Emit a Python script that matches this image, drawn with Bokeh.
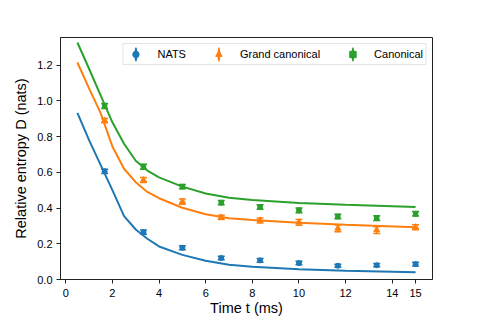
from bokeh.plotting import figure
from bokeh.models import (Range1d, FixedTicker, NumeralTickFormatter, Legend, LegendItem,
                          ColumnDataSource)
from bokeh.embed import file_html
from bokeh.resources import INLINE

# ---- data ----
t_points = [1.667, 3.333, 5.0, 6.667, 8.333, 10.0, 11.667, 13.333, 15.0]
nats_y = [0.606, 0.265, 0.178, 0.120, 0.107, 0.092, 0.077, 0.080, 0.086]
nats_err = [0.012, 0.012, 0.011, 0.010, 0.010, 0.010, 0.009, 0.009, 0.010]
grand_y = [0.890, 0.557, 0.436, 0.348, 0.331, 0.320, 0.286, 0.277, 0.293]
grand_err = [0.012, 0.014, 0.015, 0.012, 0.014, 0.016, 0.019, 0.019, 0.014]
canon_y = [0.972, 0.632, 0.520, 0.430, 0.406, 0.387, 0.353, 0.344, 0.368]
canon_err = [0.014, 0.014, 0.012, 0.012, 0.013, 0.013, 0.013, 0.013, 0.013]

t_model = [0.5, 1.0, 1.5, 2.0, 2.5, 3.0, 3.5, 4.0, 5.0, 6.0, 7.0, 8.0, 10.0, 12.0, 15.0]
nats_model = [0.933, 0.780, 0.640, 0.500, 0.355, 0.280, 0.228, 0.185, 0.138, 0.105, 0.083, 0.071, 0.058, 0.049, 0.040]
grand_model = [1.215, 1.070, 0.930, 0.745, 0.620, 0.545, 0.490, 0.455, 0.402, 0.365, 0.343, 0.333, 0.318, 0.306, 0.292]
canon_model = [1.327, 1.180, 1.030, 0.880, 0.760, 0.665, 0.610, 0.572, 0.520, 0.482, 0.458, 0.445, 0.428, 0.418, 0.406]

series_names = ["NATS", "Grand canonical", "Canonical"]
series_colors = ["#1f77b4", "#ff7f0e", "#2ca02c"]
series_markers = ["circle", "triangle", "square"]
series_sizes = [5, 6, 4.5]

x_ticks = [0, 2, 4, 6, 8, 10, 12, 14, 15]
y_ticks = [0.0, 0.2, 0.4, 0.6, 0.8, 1.0, 1.2]

FONT = "Liberation Sans"

p = figure(width=480, height=320, output_backend="svg", toolbar_location=None,
           x_range=Range1d(-0.225, 15.725), y_range=Range1d(0, 1.355),
           min_border_left=60, min_border_right=48, min_border_top=37, min_border_bottom=41)
p.background_fill_color = "white"
p.border_fill_color = "white"
p.outline_line_color = "#222222"
p.outline_line_width = 1
p.xgrid.visible = False
p.ygrid.visible = False

for ax in (p.xaxis[0], p.yaxis[0]):
    ax.axis_line_color = "#222222"
    ax.major_tick_line_color = "#222222"
    ax.major_tick_out = 4
    ax.major_tick_in = 0
    ax.minor_tick_line_color = None
    ax.major_label_text_font = FONT
    ax.major_label_text_font_size = "11px"
    ax.major_label_text_color = "black"
    ax.axis_label_text_font = FONT
    ax.axis_label_text_font_size = "14.5px"
    ax.axis_label_text_font_style = "normal"
    ax.axis_label_text_color = "black"
p.xaxis.ticker = FixedTicker(ticks=x_ticks)
p.yaxis.ticker = FixedTicker(ticks=y_ticks)
p.yaxis.formatter = NumeralTickFormatter(format="0.0")
p.xaxis.major_label_standoff = 5
p.yaxis.major_label_standoff = 4
p.xaxis.axis_label = "Time t (ms)"
p.yaxis.axis_label = "Relative entropy D (nats)"
p.xaxis.axis_label_standoff = 0
p.yaxis.axis_label_standoff = 5

models = [nats_model, grand_model, canon_model]
ys = [nats_y, grand_y, canon_y]
errs = [nats_err, grand_err, canon_err]

legend_items = []
for name, col, mk, sz, my, yy, ee in zip(series_names, series_colors, series_markers,
                                         series_sizes, models, ys, errs):
    p.line(t_model, my, line_color=col, line_width=2)
    src = ColumnDataSource(dict(
        x=t_points, y=yy, h=[2 * e for e in ee],
        lo=[a - e for a, e in zip(yy, ee)], hi=[a + e for a, e in zip(yy, ee)]))
    bar = p.ellipse(x="x", y="y", width=0.4, width_units="screen", height="h",
                    fill_color=None, line_color=col, line_width=1.5, source=src)
    p.scatter(x="x", y="lo", marker="dash", size=7, line_color=col, line_width=1.5, source=src)
    p.scatter(x="x", y="hi", marker="dash", size=7, line_color=col, line_width=1.5, source=src)
    mark = p.scatter(x="x", y="y", marker=mk, size=sz, fill_color=col, line_color=col, source=src)
    legend_items.append(LegendItem(label=name, renderers=[bar, mark]))

legend = Legend(items=legend_items, orientation="horizontal", location="top_right",
                margin=6, padding=2, spacing=22, glyph_width=20, glyph_height=16,
                label_standoff=12, label_height=12, label_text_font=FONT,
                label_text_font_size="11px", label_text_color="black",
                border_line_color="#cccccc", border_line_width=1,
                background_fill_color="white", background_fill_alpha=0.8)
p.add_layout(legend)

open("out.html", "w").write(file_html(p, INLINE))
